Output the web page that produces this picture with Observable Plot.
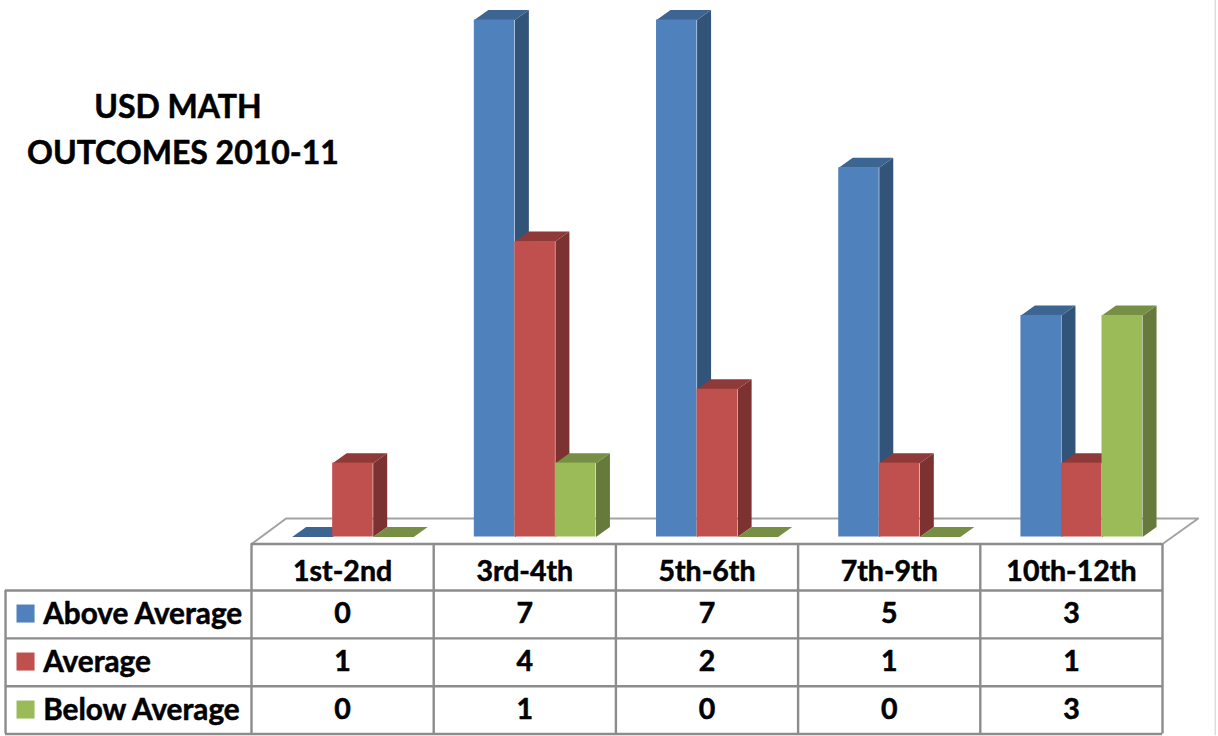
<!DOCTYPE html>
<html>
<head>
<meta charset="utf-8">
<style>
  html, body { margin: 0; padding: 0; background: #fff; }
  svg { display: block; }
</style>
<script src="https://cdn.jsdelivr.net/npm/d3@7"></script>
<script src="https://cdn.jsdelivr.net/npm/@observablehq/plot@0.6"></script>
</head>
<body>
<script>
// Grade bands and the number of outcomes per band
const grades = ["1st-2nd", "3rd-4th", "5th-6th", "7th-9th", "10th-12th"];
const seriesNames = ["Above Average", "Average", "Below Average"];
const aboveAverage = [0, 7, 7, 5, 3];
const average = [1, 4, 2, 1, 1];
const belowAverage = [0, 1, 0, 0, 3];
const titleLines = ["USD MATH", "OUTCOMES 2010-11"];

const seriesValues = [aboveAverage, average, belowAverage];
const frontColors = ["#4f81bd", "#c0504d", "#9bbb59"];
const sideColors = ["#325478", "#7c3230", "#667a3b"];
const topColors = ["#3d6591", "#8e3a38", "#778f45"];

// Column units on x, outcome counts on y; the table hangs below the zero line
const xDomain = [0, 5], xRange = [251, 1162];
const yDomain = [0, 7], yRange = [536.5, 19.5];
const barOffset = 0.223, barWidth = 0.2225;
const depthX = 0.0768, depthY = 0.135;
const floorFront = -0.095, floorBack = 0.25, floorInset = 0.19;
const rowEdges = [floorFront, -0.724, -1.372, -2.02, -2.668];
const rowCenters = [-0.47, -1.043, -1.693, -2.343];
const labelColumn = -1.35;
const ink = "#000", gridColor = "#8c8c8c", gridWidth = 2.4;
const font = { fontWeight: 700, fill: ink, stroke: ink, strokeWidth: 0.55 };

// Each bar is a side face, a top face and a front rectangle, drawn left to right
const barMarks = grades.flatMap((grade, g) =>
  seriesNames.flatMap((name, s) => {
    const value = seriesValues[s][g];
    const x1 = g + barOffset + s * barWidth;
    const x2 = x1 + barWidth;
    const face = (corners, fill) =>
      Plot.line(corners, { x: "0", y: "1", fill, stroke: "none" });
    const faces = [
      face([[x2, 0], [x2 + depthX, depthY], [x2 + depthX, value + depthY], [x2, value]], sideColors[s]),
      face([[x1, value], [x1 + depthX, value + depthY], [x2 + depthX, value + depthY], [x2, value]], topColors[s])
    ];
    if (value > 0) {
      faces.push(Plot.rect([{ name, value }], { x1, x2, y1: 0, y2: "value", fill: "name" }));
    }
    return faces;
  })
);

const floor = [
  [0, floorFront],
  [floorInset, floorBack],
  [5 + depthX * 2.55, floorBack],
  [5, floorFront],
  [0, floorFront]
];

const columnEdges = d3.range(grades.length + 1);
const tableHeader = grades.map((grade, g) => ({ grade, x: g + 0.5 }));
const tableCells = seriesNames.flatMap((name, s) =>
  grades.map((grade, g) => ({ value: seriesValues[s][g], x: g + 0.5, y: rowCenters[s + 1] }))
);
const legendRows = seriesNames.map((name, s) => ({ name, y: rowCenters[s + 1] }));

const chart = Plot.plot({
  width: 1218,
  height: 736,
  margin: 0,
  x: { domain: xDomain, range: xRange, axis: null },
  y: { domain: yDomain, range: yRange, axis: null },
  color: { domain: seriesNames, range: frontColors },
  style: { fontFamily: "Lato, sans-serif", background: "#fff" },
  marks: [
    // Faint page edge on the right
    Plot.ruleX([5.29], { y1: 7.27, y2: -2.69, stroke: "#dcdcdc", strokeWidth: 1.5 }),

    // Floor of the 3D plot
    Plot.line(floor, { x: "0", y: "1", fill: "#fff", stroke: "#a3a3a3", strokeWidth: 2 }),

    barMarks,

    // Data table grid
    Plot.ruleY(rowEdges.slice(0, 1), { x1: 0, x2: 5, stroke: gridColor, strokeWidth: gridWidth }),
    Plot.ruleY(rowEdges.slice(1), { x1: labelColumn, x2: 5, stroke: gridColor, strokeWidth: gridWidth }),
    Plot.ruleX(columnEdges, { y1: rowEdges[0], y2: rowEdges[4], stroke: gridColor, strokeWidth: gridWidth }),
    Plot.ruleX([labelColumn], { y1: rowEdges[1], y2: rowEdges[4], stroke: gridColor, strokeWidth: gridWidth }),

    // Table text
    Plot.text(tableHeader, { x: "x", y: rowCenters[0], text: "grade", fontSize: 28.5, ...font }),
    Plot.text(tableCells, { x: "x", y: "y", text: "value", fontSize: 28.5, ...font }),

    // Legend keys in the first table column
    Plot.rect(legendRows, {
      x1: -1.287,
      x2: -1.188,
      y1: (d) => d.y + 0.122,
      y2: (d) => d.y - 0.122,
      fill: "name"
    }),
    Plot.text(legendRows, {
      x: -1.143,
      y: "y",
      text: "name",
      textAnchor: "start",
      fontSize: 29.7,
      ...font
    }),

    // Title
    Plot.text(titleLines, {
      x: [-0.404, -0.376],
      y: [5.81, 5.185],
      text: (d) => d,
      fontSize: 32,
      ...font
    })
  ]
});

document.body.appendChild(chart);
</script>
</body>
</html>
